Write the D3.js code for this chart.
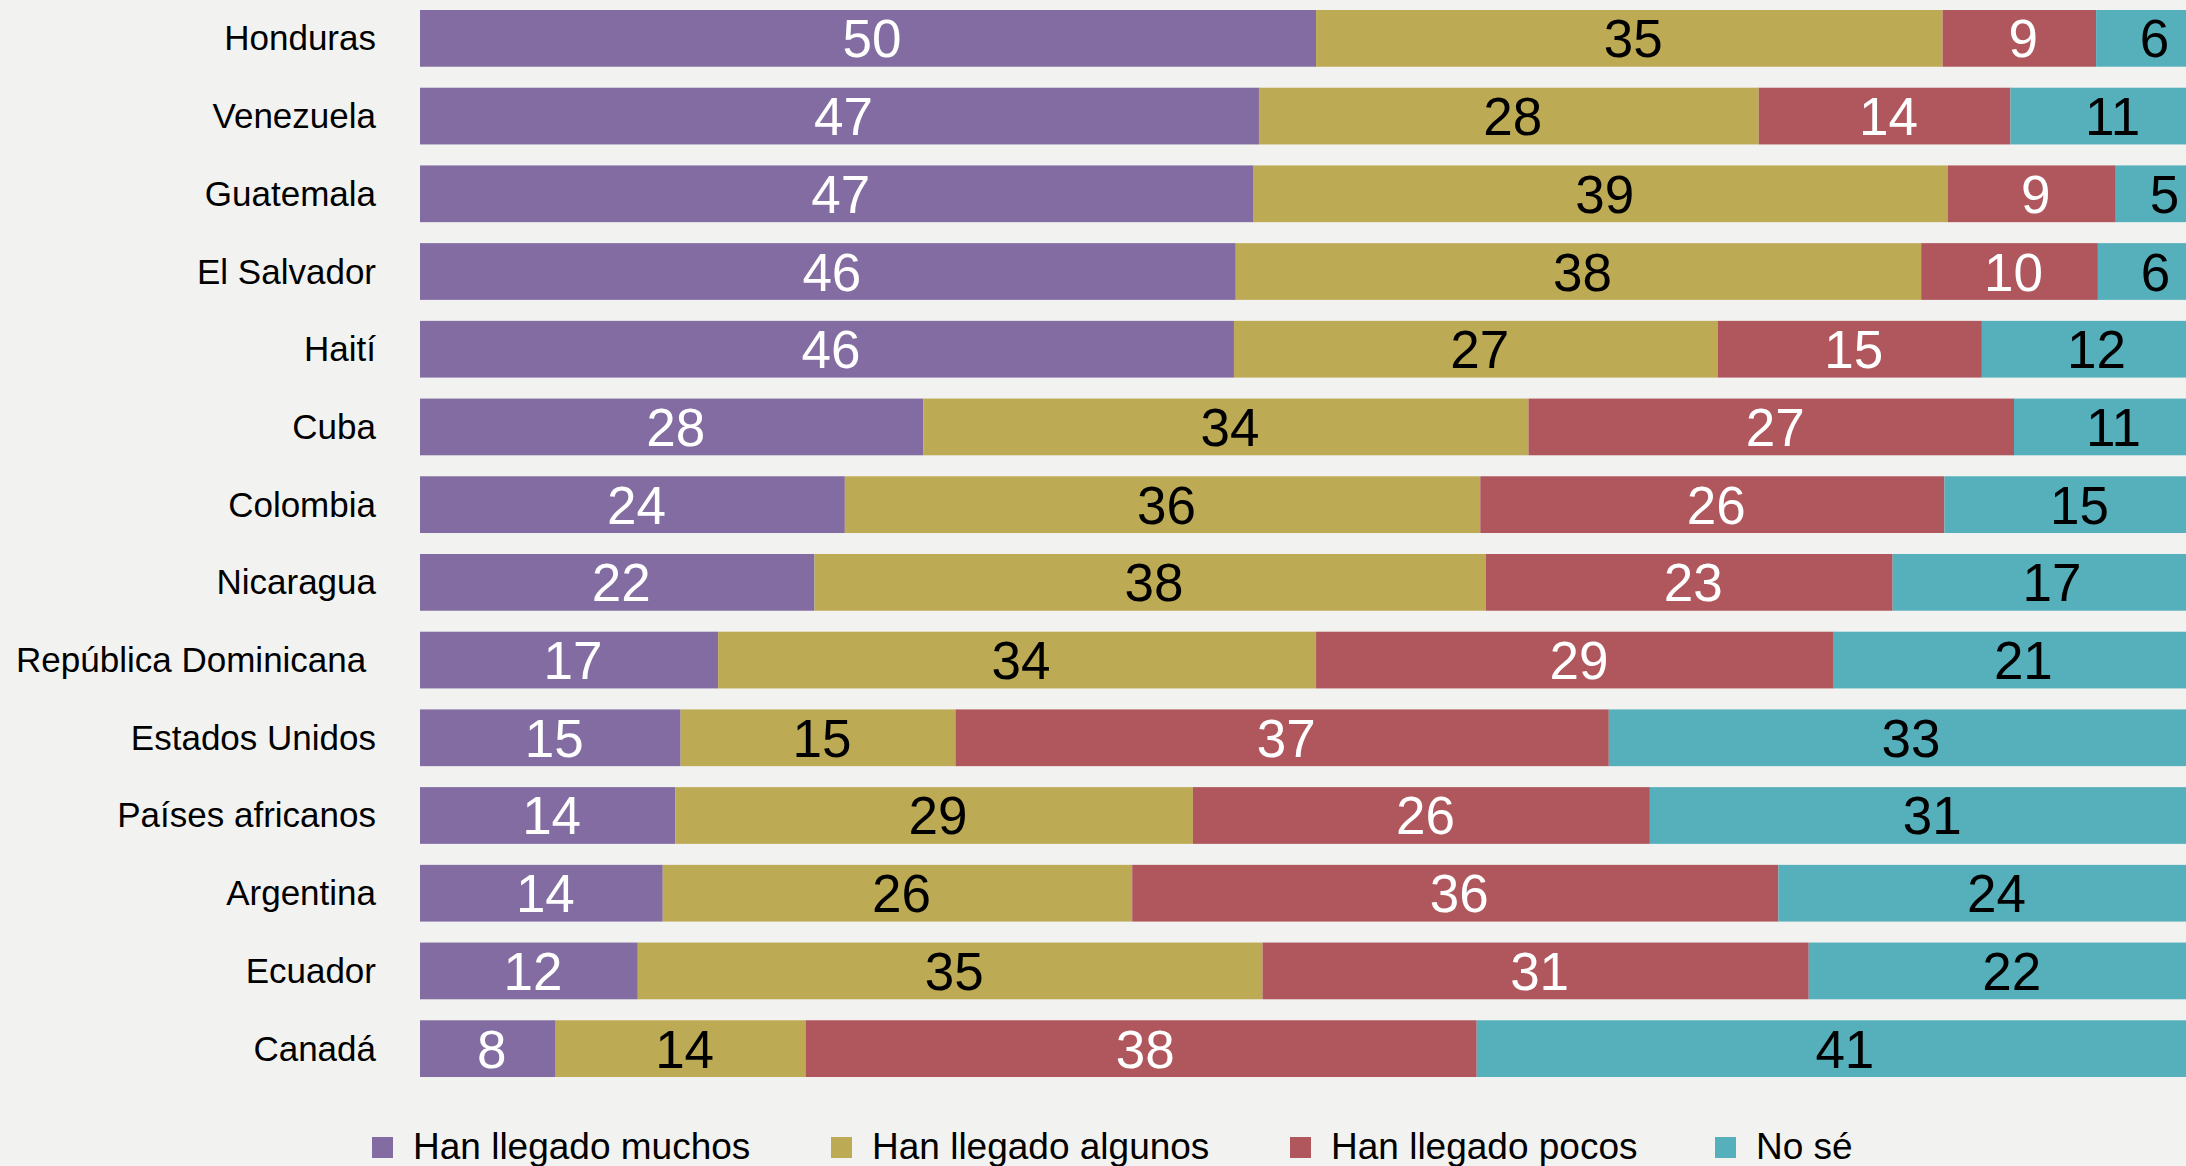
<!DOCTYPE html>
<html>
<head>
<meta charset="utf-8">
<script src="https://cdn.jsdelivr.net/npm/d3@7"></script>
<style>
  html, body { margin: 0; padding: 0; background: #f2f2f0; overflow: hidden; }
  text { font-family: "Liberation Sans", Arial, sans-serif; }
  .country { white-space: pre; }
</style>
</head>
<body>
<script>
// Change to local scope
(function(){

    //pseudo-global data (shares; labels are the rounded values)
    var countries = ["Honduras", "Venezuela", "Guatemala", "El Salvador", "Haití", "Cuba", "Colombia",
        "Nicaragua", "República Dominicana ", "Estados Unidos", "Países africanos", "Argentina", "Ecuador", "Canadá"];
    var seriesNames = ["Han llegado muchos", "Han llegado algunos", "Han llegado pocos", "No sé"];
    var muchos   = [50.2, 47.0, 46.7, 45.7, 45.6, 28.2, 23.8, 22.1, 16.7, 14.6, 14.3, 13.6, 12.2, 7.6];
    var algunos  = [35.1, 28.0, 38.9, 38.4, 27.1, 33.9, 35.6, 37.6, 33.5, 15.4, 29.0, 26.3, 35.0, 14.0];
    var pocos    = [8.6, 14.1, 9.4, 9.9, 14.8, 27.2, 26.0, 22.8, 29.0, 36.6, 25.6, 36.2, 30.6, 37.6];
    var noSe     = [6.1, 11.0, 5.0, 6.0, 12.4, 10.7, 14.7, 17.4, 20.8, 33.4, 31.2, 24.0, 22.3, 40.8];
    var colors = ["#836ca1", "#bdaa55", "#af575d", "#55b0bc"];
    var textColors = ["#ffffff", "#000000", "#ffffff", "#000000"];

    var width = 2186,
        height = 1166;

    var svg = d3.select("body")
        .append("svg")
        .attr("width", width)
        .attr("height", height);

    //build stacked rows
    var rows = countries.map(function(c, i){
        return {country: c, muchos: muchos[i], algunos: algunos[i], pocos: pocos[i], noSe: noSe[i]};
    });
    var keys = ["muchos", "algunos", "pocos", "noSe"];
    var stack = d3.stack().keys(keys)(rows);

    var x = d3.scaleLinear()
        .domain([0, 100])
        .range([420, 2205]);

    var y = d3.scaleBand()
        .domain(countries)
        .range([10, 1077])
        .paddingInner(0.27)
        .paddingOuter(0);

    //segments
    var layers = svg.selectAll(".layer")
        .data(stack)
        .enter()
        .append("g")
        .attr("class", "layer")
        .attr("fill", function(d, i){ return colors[i]; });

    layers.selectAll("rect")
        .data(function(d){ return d; })
        .enter()
        .append("rect")
        .attr("x", function(d){ return x(d[0]); })
        .attr("y", function(d){ return y(d.data.country); })
        .attr("width", function(d){ return x(d[1]) - x(d[0]); })
        .attr("height", y.bandwidth());

    //value labels
    stack.forEach(function(layer, li){
        svg.append("g")
            .selectAll("text")
            .data(layer)
            .enter()
            .append("text")
            .attr("x", function(d){ return (x(d[0]) + x(d[1])) / 2 + 4; })
            .attr("y", function(d){ return y(d.data.country) + y.bandwidth() / 2 + 19; })
            .attr("text-anchor", "middle")
            .style("font-size", "53px")
            .attr("fill", textColors[li])
            .text(function(d){ return Math.round(d.data[layer.key]); });
    });

    //country labels
    svg.append("g")
        .selectAll("text")
        .data(countries)
        .enter()
        .append("text")
        .attr("class", "country")
        .attr("x", 376)
        .attr("y", function(d){ return y(d) + y.bandwidth() / 2 + 12; })
        .attr("text-anchor", "end")
        .style("font-size", "35px")
        .attr("fill", "#000")
        .text(function(d){ return d; });

    //legend
    var legendX = [372, 831, 1290, 1715];
    var legend = svg.append("g")
        .selectAll("g")
        .data(seriesNames)
        .enter()
        .append("g")
        .attr("transform", function(d, i){ return "translate(" + legendX[i] + ",0)"; });

    legend.append("rect")
        .attr("x", 0)
        .attr("y", 1137)
        .attr("width", 21)
        .attr("height", 21)
        .attr("fill", function(d, i){ return colors[i]; });

    legend.append("text")
        .attr("x", 41)
        .attr("y", 1159)
        .style("font-size", "37px")
        .attr("fill", "#000")
        .text(function(d){ return d; });

})();
</script>
</body>
</html>
